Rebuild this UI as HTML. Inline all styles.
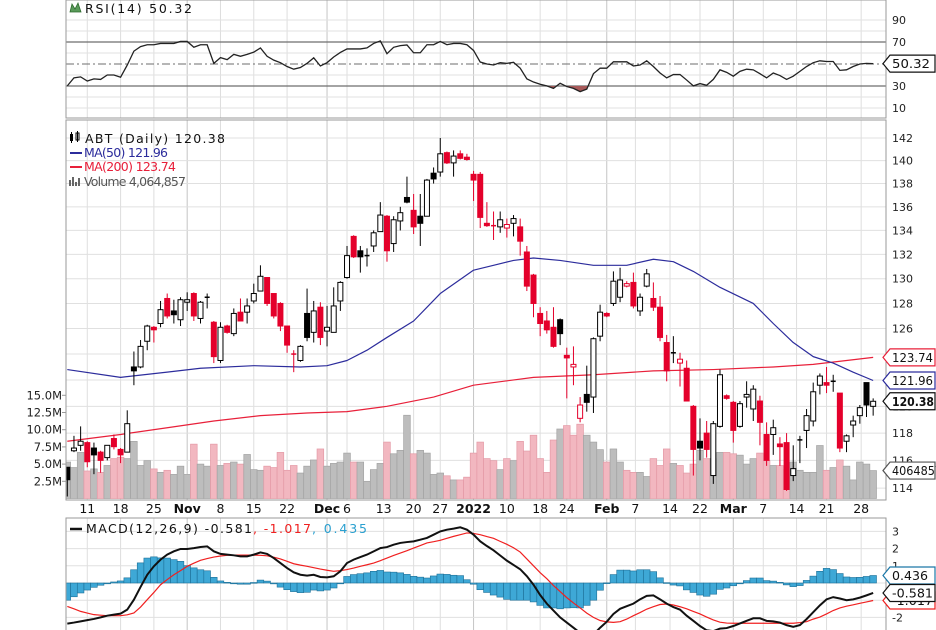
<!DOCTYPE html>
<html>
<head>
<meta charset="utf-8">
<style>
  html,body{margin:0;padding:0;background:#fff;}
  #wrap{width:936px;height:630px;overflow:hidden;position:relative;background:#fff;}
  svg{display:block;font-family:"DejaVu Sans","Liberation Sans",sans-serif;}
</style>
</head>
<body>
<div id="wrap">
<svg id="chart" width="936" height="630" viewBox="0 0 936 630">
  <defs>
    <clipPath id="clipRsi"><rect x="66" y="0" width="820" height="118"/></clipPath>
    <clipPath id="clipMain"><rect x="66" y="120" width="820" height="380"/></clipPath>
    <clipPath id="clipMacd"><rect x="66" y="518" width="820" height="112"/></clipPath>
    <clipPath id="clipOS"><rect x="66" y="86" width="820" height="32"/></clipPath>
  </defs>
</svg>
</div>
<script>
// ---------- DATA ----------
const opens = [115.5,116.7,117.1,117.3,116.9,116.6,116.2,117.6,116.8,116.6,
123.0,123.0,125.0,126.1,126.4,128.4,127.4,126.7,128.1,128.8,
126.8,128.5,126.5,123.5,126.2,125.6,127.3,127.3,128.2,129.0,
130.1,128.8,128.0,126.2,124.0,123.5,127.2,125.7,127.7,125.8,
125.7,128.2,130.1,133.5,132.3,131.9,132.7,133.9,135.2,132.9,
134.8,136.8,135.7,135.2,135.2,138.9,139.0,140.7,139.8,140.6,
140.3,138.8,138.8,134.6,134.4,134.3,134.2,134.6,134.3,132.2,
130.3,127.2,126.6,126.1,126.7,123.9,123.0,119.1,120.9,120.7,
125.4,127.2,128.0,128.5,129.4,129.7,127.4,129.4,128.4,127.7,
124.9,124.1,123.3,122.9,120.0,117.4,118.0,114.9,118.5,120.8,
120.3,118.5,120.7,119.8,120.4,117.9,117.9,117.2,117.3,114.9,
117.4,118.2,118.9,121.6,121.8,121.9,121.0,117.4,118.6,119.3,
121.8,120.0];
const highs = [115.5,117.8,118.5,117.4,117.3,116.7,117.1,117.9,116.9,119.7,
124.2,125.1,126.3,126.2,128.2,128.8,128.3,128.5,128.9,128.9,
128.2,128.8,126.6,126.5,126.3,127.6,128.4,128.4,129.6,131.1,
130.1,128.8,128.1,126.2,124.3,124.7,129.2,128.2,128.1,127.8,
129.3,129.8,132.7,133.6,132.7,132.5,134.0,136.4,135.3,135.2,
136.0,138.6,137.1,137.1,138.4,139.4,142.0,140.8,140.9,140.9,
140.6,139.1,139.0,136.4,135.6,135.6,135.0,135.3,135.0,132.7,
130.4,127.7,127.4,127.7,126.8,124.5,124.6,120.7,123.1,125.3,
127.9,127.3,130.6,130.9,129.8,130.5,128.8,130.8,129.7,128.6,
125.5,125.4,124.1,123.5,120.1,119.1,118.9,118.9,122.8,120.9,
120.4,120.4,121.9,121.6,120.8,118.8,119.0,117.7,118.0,117.1,
117.8,119.8,121.8,122.5,123.0,122.4,121.0,117.9,119.3,120.1,
121.8,120.6];
const lows = [113.4,116.6,116.7,115.5,115.0,115.1,116.0,116.8,115.8,116.6,
121.6,122.9,124.3,124.9,126.1,126.8,126.4,126.2,127.4,126.6,
126.4,127.6,123.3,123.3,125.6,125.4,126.6,126.4,128.0,129.0,
127.8,126.8,125.8,124.1,122.6,123.4,125.0,124.9,124.7,124.6,
125.7,127.4,130.0,131.7,130.5,131.0,132.2,133.9,131.4,132.2,
134.0,136.3,133.7,132.7,135.2,138.0,138.6,139.7,138.6,140.1,
140.0,136.5,134.2,134.3,133.2,133.8,133.4,133.5,131.9,129.0,
126.9,125.4,125.6,124.5,124.7,120.6,121.6,118.8,119.6,119.5,
125.0,126.9,127.8,128.1,129.3,127.6,127.0,129.3,127.4,125.0,
121.9,123.3,121.5,120.4,114.9,116.0,116.2,114.3,118.4,120.5,
117.3,118.4,119.9,118.9,117.1,115.6,116.4,115.6,113.8,114.5,
115.8,116.9,118.5,120.9,121.0,121.1,116.6,116.6,117.7,118.7,
119.2,119.3];
const closes = [114.6,116.9,117.4,115.9,116.4,116.0,117.1,117.0,116.4,118.7,
122.7,124.6,126.2,125.9,127.5,127.0,127.1,128.3,128.3,127.0,
128.1,128.5,123.8,126.1,125.7,127.2,126.6,127.8,128.8,130.2,
128.0,127.0,126.2,124.7,123.9,124.6,125.3,127.4,125.3,126.1,
127.8,129.7,131.9,131.8,131.8,131.9,133.8,135.3,132.3,134.9,
135.5,136.4,134.3,134.6,138.3,138.4,140.6,139.8,140.4,140.2,
140.1,138.3,135.1,134.4,134.3,134.9,134.5,135.0,133.1,129.4,
128.0,126.4,125.9,124.6,125.6,123.7,123.2,120.1,120.3,125.2,
127.3,127.0,129.8,129.9,129.6,127.8,128.5,130.4,127.7,125.3,
122.7,124.0,123.6,120.4,116.8,116.9,116.8,118.7,122.4,120.6,
118.2,120.2,120.9,121.3,118.8,116.0,118.4,117.0,113.9,115.4,
117.5,119.3,121.1,122.3,121.6,121.9,116.9,117.8,118.9,119.9,
120.1,120.38];
const volumes = [5.3,4.5,6.7,4.0,4.3,3.8,4.8,5.8,6.0,5.8,
8.3,4.8,5.5,4.3,3.8,4.1,3.5,4.7,3.5,7.9,
5.0,4.7,7.9,4.8,5.1,5.3,5.0,6.4,4.2,4.1,
4.7,4.5,6.7,4.1,4.8,3.7,4.7,5.6,7.2,4.7,
5.1,5.3,6.6,5.3,5.3,2.5,4.2,5.1,8.2,6.5,
7.0,12.1,6.5,7.0,6.6,3.5,3.7,3.3,2.7,2.7,
3.1,6.6,8.2,5.8,5.5,4.2,5.8,5.5,8.3,6.9,
9.2,5.8,3.8,8.5,10.1,10.6,9.2,10.8,9.2,8.2,
7.1,5.3,7.2,5.3,4.1,3.8,3.8,3.2,5.8,4.8,
7.2,5.1,4.8,3.7,5.0,7.0,5.8,5.8,6.7,6.7,
6.5,6.3,5.0,5.8,6.6,5.5,4.8,4.8,4.2,5.3,
4.1,3.8,3.8,7.7,4.1,4.5,5.6,4.7,2.7,5.3,
5.0,4.06];
const ma50Idx = [0,8,15,20,28,35,39,42,45,48,52,56,61,64,67,70,74,79,84,88,91,94,98,103,106,109,112,115,118,121];
const ma50Val = [122.8,122.2,122.6,122.9,123.1,123.0,123.1,123.5,124.3,125.3,126.6,128.8,130.7,131.1,131.5,131.7,131.5,131.1,131.1,131.6,131.4,130.6,129.3,128.0,126.4,124.9,123.8,123.3,122.6,121.96];
const ma200Idx = [0,8,15,22,29,36,42,48,55,61,70,79,88,97,106,112,117,121];
const ma200Val = [117.4,117.9,118.4,118.9,119.3,119.5,119.6,120.0,120.7,121.6,122.2,122.4,122.7,122.8,123.0,123.2,123.5,123.74];
const rsiVals = [30.1,37.4,38.3,34.5,36.5,36,40,40,38,49,
61.7,65.8,67.5,67.5,68.7,68.7,68.7,70.5,70.5,65.2,
67.5,67.5,50.6,55.8,54,58.8,57,58.8,60.8,64.6,
57,53.5,51.2,47.7,45.3,46.8,50.6,55.6,48.2,51.2,
56.4,60.5,63.7,63.7,63.7,64.6,68.7,71,59.4,65.2,
66.7,67.3,60.2,60.2,67.5,67.5,70.5,67.5,68.7,68.7,
67.5,62.3,51.8,50,49.1,51.2,50.6,51.5,46.2,36.5,
33.6,31.6,30.1,27.8,32.5,29.5,27.8,24.9,27.2,41.2,
46.2,46.2,52,52,52,48.2,49.1,52.9,47.7,41.8,
37.4,40.4,40.4,35.4,30.1,32.2,30.7,36,44.7,42.4,
38.9,43.3,45.3,44.7,41.2,37.4,41.8,39.5,36,38.9,
43.3,47.7,51.2,52.9,52.3,52.3,44.2,44.7,47.7,50,
50.6,50.32];
const macdVals = [-2.36,-2.3,-2.23,-2.16,-2.09,-2.0,-1.9,-1.84,-1.78,-1.55,
-0.97,-0.23,0.48,0.97,1.36,1.65,1.84,1.98,1.98,2.03,
2.09,2.13,1.84,1.69,1.65,1.61,1.55,1.55,1.65,1.78,
1.69,1.45,1.16,0.87,0.62,0.48,0.43,0.48,0.35,0.33,
0.39,0.68,1.16,1.36,1.51,1.65,1.84,2.03,2.09,2.23,
2.33,2.38,2.42,2.52,2.62,2.81,3.0,3.1,3.16,3.24,
3.1,2.81,2.42,2.15,1.9,1.6,1.3,1.05,0.8,0.4,
-0.1,-0.7,-1.2,-1.6,-2.0,-2.3,-2.6,-2.9,-3.05,-3.0,
-2.6,-2.25,-1.8,-1.5,-1.35,-1.2,-0.95,-0.75,-0.72,-0.95,
-1.2,-1.4,-1.55,-1.9,-2.2,-2.5,-2.75,-2.8,-2.65,-2.62,
-2.5,-2.35,-2.2,-2.05,-2.05,-2.2,-2.23,-2.3,-2.45,-2.55,
-2.45,-2.1,-1.7,-1.3,-0.95,-0.82,-0.9,-1.0,-0.95,-0.85,
-0.72,-0.581];
const signalVals = [-1.36,-1.5,-1.65,-1.75,-1.84,-1.87,-1.9,-1.9,-1.9,-1.85,
-1.74,-1.4,-0.97,-0.55,-0.1,0.2,0.48,0.72,0.97,1.15,
1.32,1.42,1.51,1.57,1.61,1.62,1.62,1.62,1.62,1.61,
1.58,1.5,1.4,1.26,1.12,1.04,0.97,0.89,0.81,0.74,
0.68,0.72,0.78,0.87,0.97,1.06,1.16,1.3,1.45,1.6,
1.74,1.88,2.03,2.18,2.33,2.4,2.48,2.6,2.71,2.81,
2.91,2.88,2.81,2.7,2.6,2.42,2.25,2.05,1.8,1.4,
1.0,0.6,0.25,-0.15,-0.5,-0.85,-1.16,-1.45,-1.75,-2.0,
-2.18,-2.26,-2.29,-2.25,-2.1,-1.9,-1.72,-1.52,-1.38,-1.25,
-1.22,-1.28,-1.38,-1.5,-1.65,-1.8,-1.98,-2.15,-2.28,-2.33,
-2.34,-2.34,-2.34,-2.34,-2.34,-2.34,-2.34,-2.34,-2.34,-2.34,
-2.3,-2.25,-2.1,-1.98,-1.8,-1.6,-1.45,-1.35,-1.27,-1.18,
-1.1,-1.017];
const tickIdx = [3,8,13,18,23,28,33,39,42,47.5,52,56,61,66,71,75,81,85.3,90.5,95,100,104.5,109.5,114,119.2];
const tickLbl = ["11","18","25","Nov","8","15","22","Dec","6","13","20","27","2022","10","18","24","Feb","7","14","22","Mar","7","14","21","28"];
const priceTicks = [114,116,118,120,122,124,126,128,130,132,134,136,138,140,142];
const volTicks = [2.5,5.0,7.5,10.0,12.5,15.0];
const rsiTicks = [10,30,70,90];
const macdTicks = [3,2,1,0,-1,-2,-3];

// ---------- AXES ----------
const NS='http://www.w3.org/2000/svg';
const svg=document.getElementById('chart');
function mk(tag,attrs,parent){const e=document.createElementNS(NS,tag);for(const k in attrs)e.setAttribute(k,attrs[k]);(parent||svg).appendChild(e);return e;}
const X0=67.3, DX=6.66;
function xi(i){return X0+i*DX;}
function yP(p){return 138+(Math.log(142)-Math.log(p))*1594;}
function yV(v){return 498.5-v*6.88;}
function yR(r){return 64-(r-50)*1.1;}
function yM(m){return 583-m*17.2;}

const gRsi=mk('g',{'clip-path':'url(#clipRsi)'});


const gMain=mk('g',{'clip-path':'url(#clipMain)'});


const gMacd=mk('g',{'clip-path':'url(#clipMacd)'});



[[gRsi,0,118],[gMain,120,500],[gMacd,518,630]].forEach(function(p){
  tickIdx.forEach(function(t,k){
    const isMonth=isNaN(+tickLbl[k])||tickLbl[k].length===4;
    const l=mk('line',{x1:xi(t),x2:xi(t),y1:p[1],y2:p[2],stroke:isMonth?'#c4c4c4':'#dedede','stroke-width':1},p[0]);
    
    
  });
});
for(let r=10;r<=90;r+=10){
  if(r===30||r===70||r===50) continue;
  const l=mk('line',{x1:66,x2:886,y1:yR(r),y2:yR(r),stroke:'#e2e2e2'},gRsi);
  
  
}
[30,70].forEach(function(r){
  const l=mk('line',{x1:66,x2:886,y1:yR(r),y2:yR(r),stroke:'#6e6e6e','stroke-width':1.2},gRsi);
  
  
});
const mid=mk('line',{x1:66,x2:886,y1:yR(50),y2:yR(50),stroke:'#6e6e6e','stroke-dasharray':'8,3,2,3'},gRsi);



priceTicks.forEach(function(p){
  const l=mk('line',{x1:66,x2:886,y1:yP(p),y2:yP(p),stroke:'#e0e0e0'},gMain);
  
  
});
macdTicks.forEach(function(m){
  const l=mk('line',{x1:66,x2:886,y1:yM(m),y2:yM(m),stroke:'#e0e0e0'},gMacd);
  
  
});

// ---------- RSI ----------
const rsiPts=rsiVals.map(function(v,i){return xi(i)+','+yR(v);});
const osFill=mk('polygon',{points:rsiPts.join(' ')+' '+xi(rsiVals.length-1)+','+yR(30)+' '+xi(0)+','+yR(30),fill:'#a85a5a','clip-path':'url(#clipOS)'},gRsi);


const rsiLine=mk('polyline',{points:rsiPts.join(' '),fill:'none',stroke:'#222','stroke-width':1.3},gRsi);



// ---------- VOLUME ----------
volumes.forEach(function(v,i){
  const down=i>0&&closes[i]<closes[i-1];
  const r=mk('rect',{x:xi(i)-DX/2,y:yV(v),width:DX,height:yV(0)-yV(v),fill:down?'#f2b7c0':'#bdbdbd',stroke:down?'#e49aa6':'#a3a3a3','stroke-width':0.7},gMain);
  
  
});

// ---------- MAs ----------
const ma200=mk('polyline',{points:ma200Idx.map(function(t,k){return xi(t)+','+yP(ma200Val[k]);}).join(' '),fill:'none',stroke:'#e8203a','stroke-width':1.2,'stroke-linejoin':'round'},gMain);


const ma50=mk('polyline',{points:ma50Idx.map(function(t,k){return xi(t)+','+yP(ma50Val[k]);}).join(' '),fill:'none',stroke:'#2c2c9c','stroke-width':1.2,'stroke-linejoin':'round'},gMain);



// ---------- CANDLES ----------
closes.forEach(function(c,i){
  const o=opens[i], h=highs[i], l=lows[i];
  const red=i>0&&c<closes[i-1];
  const col=red?'#e4002b':'#000';
  const filled=c<o;
  const g=mk('g',{},gMain);
  
  
  mk('line',{x1:xi(i),x2:xi(i),y1:yP(h),y2:yP(l),stroke:col,'stroke-width':1},g);
  const top=yP(Math.max(o,c)), bot=yP(Math.min(o,c));
  const ht=Math.max(1,bot-top);
  if(bot-top<1.5){
    mk('line',{x1:xi(i)-2.5,x2:xi(i)+2.5,y1:top,y2:top,stroke:col,'stroke-width':1.5},g);
  } else {
    mk('rect',{x:xi(i)-2.5,y:top,width:5,height:ht,fill:filled?col:'#fff',stroke:col,'stroke-width':1},g);
  }
});

// ---------- MACD ----------
macdVals.forEach(function(m,i){
  const h=m-signalVals[i];
  const y0=yM(0), y1=yM(h);
  const r=mk('rect',{x:xi(i)-DX/2,y:Math.min(y0,y1),width:DX,height:Math.max(0.8,Math.abs(y1-y0)),fill:'#3ea8d6',stroke:'#1c6f97','stroke-width':0.6},gMacd);
  
  
});
const sigLine=mk('polyline',{points:signalVals.map(function(v,i){return xi(i)+','+yM(v);}).join(' '),fill:'none',stroke:'#f02020','stroke-width':1.2},gMacd);


const macdLine=mk('polyline',{points:macdVals.map(function(v,i){return xi(i)+','+yM(v);}).join(' '),fill:'none',stroke:'#111','stroke-width':2},gMacd);



// ---------- FRAMES ----------
[[0,118,'rsi-frame'],[120,500,'price-frame'],[518,640,'macd-frame']].forEach(function(f){
  const r=mk('rect',{x:66,y:f[0],width:820,height:f[1]-f[0],fill:'none',stroke:'#9a9a9a','stroke-width':1});
  
  
});

// ---------- AXIS LABELS ----------
function txt(x,y,s,attrs){const t=mk('text',Object.assign({x:x,y:y},attrs||{}));t.textContent=s;return t;}
rsiTicks.forEach(function(r){
  const t=txt(892,yR(r)+4,String(r),{'font-size':11,fill:'#222'});
  
  
});
priceTicks.forEach(function(p){
  const t=txt(892,yP(p)+4,String(p),{'font-size':11,fill:'#222'});
  
  
});
volTicks.forEach(function(v){
  const t=txt(62,yV(v)+4,v.toFixed(1)+'M',{'font-size':11.5,fill:'#222','text-anchor':'end'});
  
  
  const tk=mk('line',{x1:62,x2:66,y1:yV(v),y2:yV(v),stroke:'#999'});
  
  
});
macdTicks.forEach(function(m){
  const t=txt(892,yM(m)+4,String(m),{'font-size':11,fill:'#222'});
  
  
});
tickIdx.forEach(function(t,k){
  const isMonth=isNaN(+tickLbl[k])||tickLbl[k].length===4;
  const e=txt(xi(t),513,tickLbl[k],{'font-size':12.5,'text-anchor':'middle',fill:'#111','font-weight':isMonth?'bold':'normal'});
  
  
});

// ---------- TAGS ----------
function tag(y,s,col,bold,len){
  const g=mk('g',{});
  const x0=883;
  mk('polygon',{points:[x0+','+y,(x0+7)+','+(y-8.5),(x0+52)+','+(y-8.5),(x0+52)+','+(y+8.5),(x0+7)+','+(y+8.5)].join(' '),fill:'#fff',stroke:col,'stroke-width':1.2},g);
  const t=mk('text',{x:x0+9,y:y+4.5,'font-size':bold?12.5:12,fill:'#111','font-weight':bold?'bold':'normal',textLength:len||41,lengthAdjust:'spacingAndGlyphs'},g);
  t.textContent=s;
  return g;
}
const tRsi=tag(yR(rsiVals[rsiVals.length-1]),rsiVals[rsiVals.length-1].toFixed(2),'#111',false,38);


const tVol=tag(yV(volumes[volumes.length-1]),'4064857','#555',false,50);


const tM200=tag(yP(ma200Val[ma200Val.length-1]),ma200Val[ma200Val.length-1].toFixed(2),'#e8203a',false);


const tM50=tag(yP(ma50Val[ma50Val.length-1]),ma50Val[ma50Val.length-1].toFixed(2),'#2c2c9c',false);


const tClose=tag(yP(closes[closes.length-1]),closes[closes.length-1].toFixed(2),'#111',true,42);


const lastM=macdVals[macdVals.length-1], lastS=signalVals[signalVals.length-1];
const tSig=tag(yM(lastS),lastS.toFixed(3),'#f02020',false);


const tHist=tag(yM(lastM-lastS),(lastM-lastS).toFixed(3),'#1c78a8',false,36);


const tMacd=tag(yM(lastM),lastM.toFixed(3),'#111',false);



// ---------- LEGENDS ----------
const rsiIcon=mk('polygon',{points:'70,12 72,4 75,9 78,3 81,12',fill:'#5a9a5a',stroke:'#2d6a2d','stroke-width':0.8});


const rsiTitle=txt(85,13,'RSI(14) 50.32',{'font-size':12.5,fill:'#111',textLength:107,lengthAdjust:'spacing'});


const abtIcon=mk('g',{});


mk('rect',{x:70,y:134,width:3,height:7,fill:'#000'},abtIcon);
mk('rect',{x:76,y:133,width:3,height:7,fill:'#fff',stroke:'#000','stroke-width':1},abtIcon);
mk('line',{x1:71.5,x2:71.5,y1:132,y2:143,stroke:'#000'},abtIcon);
mk('line',{x1:77.5,x2:77.5,y1:131,y2:142,stroke:'#000'},abtIcon);
const abtTitle=txt(85,143,'ABT (Daily) 120.38',{'font-size':12.5,fill:'#111',textLength:140,lengthAdjust:'spacing'});


const l50=mk('line',{x1:70,x2:82,y1:153,y2:153,stroke:'#2c2c9c','stroke-width':2});


const t50=txt(84,157,'MA(50) 121.96',{'font-size':12.5,fill:'#2c2c9c',textLength:84,lengthAdjust:'spacing'});


const l200=mk('line',{x1:70,x2:82,y1:167,y2:167,stroke:'#e8203a','stroke-width':2});


const t200=txt(84,171,'MA(200) 123.74',{'font-size':12.5,fill:'#e8203a',textLength:92,lengthAdjust:'spacing'});


const volIcon=mk('g',{});


[[69,180],[72,177],[75,182],[78,178]].forEach(function(b){mk('rect',{x:b[0],y:b[1],width:2,height:186-b[1],fill:'#666'},volIcon);});
const tVolL=txt(84,186,'Volume 4,064,857',{'font-size':12.5,fill:'#555',textLength:102,lengthAdjust:'spacing'});


const lm=mk('line',{x1:70,x2:82,y1:529,y2:529,stroke:'#111','stroke-width':2.5});


const tm1=txt(86,533,'MACD(12,26,9) -0.581',{'font-size':12.5,fill:'#111',textLength:166,lengthAdjust:'spacing'});


const tm2=txt(253,533,', -1.017',{'font-size':12.5,fill:'#f02020',textLength:58,lengthAdjust:'spacing'});


const tm3=txt(312,533,', 0.435',{'font-size':12.5,fill:'#2aa0d0',textLength:55,lengthAdjust:'spacing'});


</script>
</body>
</html>
